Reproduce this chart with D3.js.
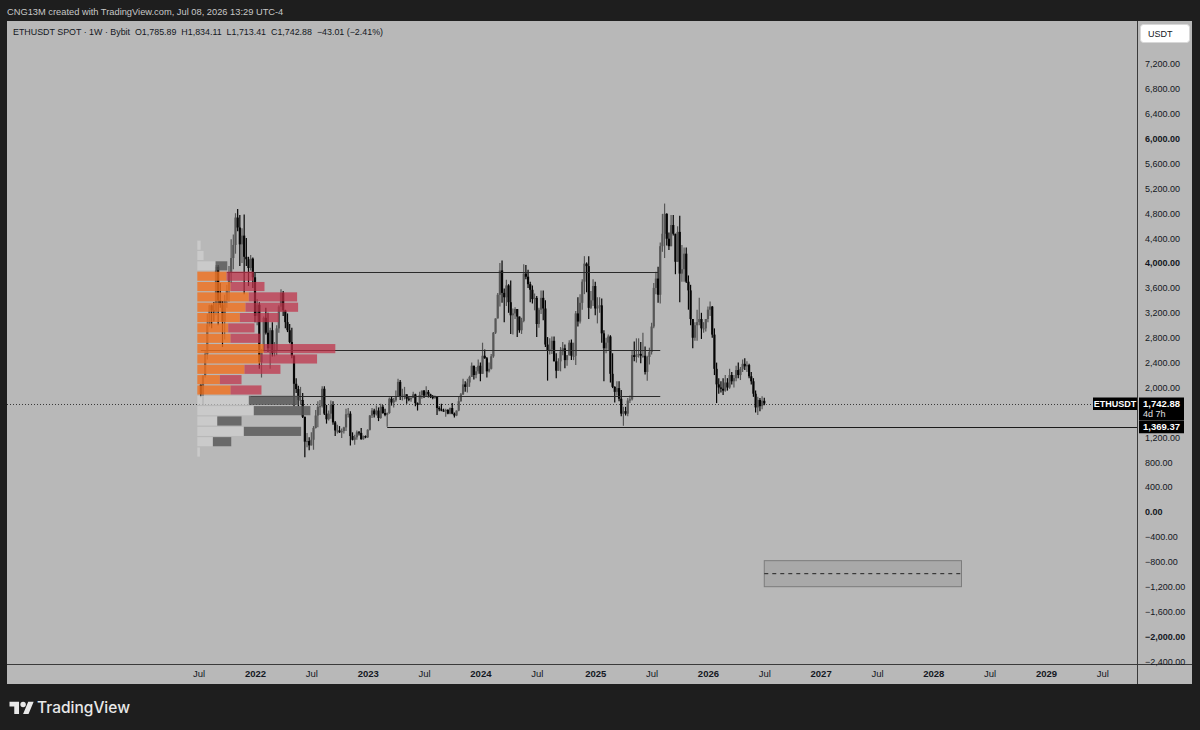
<!DOCTYPE html>
<html>
<head>
<meta charset="utf-8">
<script src="https://cdn.jsdelivr.net/npm/d3@7"></script>
<style>
  body { margin: 0; background: #1e1e1e; }
  svg { display: block; }
  text { font-family: "Liberation Sans", Arial, sans-serif; }
</style>
</head>
<body>
<svg id="chart" width="1200" height="730"></svg>
<script>
// ETHUSDT weekly, Bybit spot. Open of each week = close of the week before.
const firstOpen = 2045;

const close2021 = [1895, 2190, 2535, 3010, 3320, 3240, 3225, 3940, 3400, 3330, 3060, 3400, 3560, 3850, 4080, 4290, 4730, 4570, 4300, 4440, 4100, 4060, 3920, 4070, 3770];
const high2021 = [2050, 2195, 2600, 3180, 3330, 3335, 3375, 3970, 3970, 3680, 3390, 3490, 3650, 3950, 4380, 4460, 4800, 4868, 4770, 4560, 4780, 4400, 4100, 4130, 4090];
const low2021 = [1845, 1718, 2160, 2450, 2980, 2950, 3060, 3160, 3000, 3280, 2650, 2770, 3280, 3380, 3680, 3900, 4150, 4510, 3950, 4000, 3500, 3950, 3630, 3880, 3600];

const close2022 = [3150, 3330, 2410, 2600, 3120, 2880, 2630, 2920, 2550, 2590, 2950, 3300, 3520, 3240, 3050, 2920, 2730, 2510, 2060, 1975, 1800, 1800, 1530, 1130, 1140, 1070, 1160, 1350, 1550, 1690, 1700, 1980, 1580, 1490, 1580, 1720, 1440, 1310, 1310, 1280, 1300, 1360, 1570, 1580, 1220, 1160, 1200, 1280, 1270, 1170, 1220, 1200];
const high2022 = [3850, 3420, 3370, 2620, 3140, 3280, 3200, 2960, 3050, 2730, 3000, 3320, 3580, 3550, 3250, 3190, 3020, 2960, 2520, 2150, 2030, 2010, 1910, 1530, 1270, 1200, 1280, 1380, 1640, 1780, 1800, 2020, 2020, 1720, 1630, 1790, 1780, 1460, 1400, 1380, 1340, 1370, 1660, 1670, 1620, 1280, 1240, 1310, 1300, 1350, 1230, 1230];
const low2022 = [3050, 3000, 2300, 2160, 2580, 2850, 2570, 2300, 2500, 2500, 2520, 2880, 3220, 3150, 2950, 2890, 2710, 2470, 1700, 1910, 1700, 1720, 1510, 880, 1040, 990, 1070, 1000, 1340, 1360, 1560, 1680, 1560, 1420, 1470, 1500, 1400, 1220, 1260, 1270, 1190, 1260, 1300, 1520, 1070, 1150, 1080, 1160, 1230, 1160, 1160, 1185];

const close2023 = [1320, 1550, 1630, 1570, 1630, 1510, 1690, 1590, 1560, 1590, 1820, 1760, 1795, 1860, 2090, 1865, 1870, 1890, 1820, 1810, 1830, 1890, 1750, 1720, 1880, 1950, 1870, 1930, 1890, 1860, 1830, 1850, 1670, 1650, 1630, 1620, 1640, 1580, 1670, 1580, 1550, 1630, 1780, 1890, 2050, 2010, 2080, 2170, 2350, 2200, 2260, 2350];
const high2023 = [1330, 1560, 1670, 1660, 1710, 1680, 1740, 1720, 1660, 1600, 1840, 1850, 1830, 1950, 2140, 2120, 1980, 2010, 1860, 1850, 1850, 1930, 1900, 1760, 1930, 1950, 1960, 2020, 1960, 1900, 1880, 1870, 1850, 1700, 1740, 1660, 1660, 1650, 1680, 1750, 1600, 1630, 1850, 1910, 2140, 2100, 2140, 2190, 2400, 2270, 2330, 2450];
const low2023 = [1190, 1310, 1510, 1520, 1550, 1460, 1500, 1580, 1540, 1369, 1580, 1710, 1680, 1770, 1850, 1800, 1790, 1810, 1740, 1780, 1770, 1840, 1700, 1630, 1720, 1820, 1830, 1860, 1840, 1830, 1810, 1820, 1560, 1620, 1620, 1610, 1530, 1570, 1570, 1570, 1520, 1540, 1620, 1770, 1880, 1930, 1920, 2010, 2170, 2130, 2150, 2220];

const close2024 = [2220, 2510, 2470, 2260, 2300, 2500, 2880, 3110, 3490, 3880, 3520, 3450, 3640, 3370, 3160, 3190, 3260, 3140, 2920, 3070, 3830, 3780, 3660, 3570, 3420, 3440, 3020, 3250, 3440, 3270, 2690, 2600, 2610, 2750, 2420, 2270, 2420, 2580, 2630, 2440, 2520, 2720, 2510, 2510, 3190, 3060, 3360, 3700, 3990, 3950, 3280, 3400, 3630];
const high2024 = [2400, 2720, 2610, 2490, 2400, 2540, 2890, 3110, 3520, 4000, 4040, 3590, 3730, 3660, 3720, 3270, 3290, 3260, 3130, 3120, 3980, 3970, 3890, 3700, 3640, 3510, 3470, 3280, 3560, 3560, 3400, 2810, 2790, 2820, 2820, 2550, 2470, 2650, 2730, 2690, 2520, 2760, 2770, 2720, 3230, 3450, 3500, 3740, 4110, 4010, 4110, 3550, 3740];
const low2024 = [2100, 2230, 2460, 2160, 2240, 2290, 2480, 2860, 3110, 3300, 3360, 3050, 3310, 3200, 2860, 2850, 3100, 2810, 2880, 2860, 3050, 3740, 3600, 3370, 3350, 3240, 2810, 2960, 3180, 3080, 2650, 2110, 2530, 2540, 2420, 2150, 2270, 2260, 2520, 2310, 2350, 2510, 2440, 2440, 2360, 2980, 3030, 3250, 3500, 3530, 3100, 3260, 3310];

const close2025 = [3270, 3300, 3320, 2870, 2630, 2720, 2820, 2220, 2010, 1930, 1990, 1820, 1580, 1620, 1580, 1790, 1810, 2520, 2490, 2530, 2540, 2510, 2510, 2250, 2490, 2570, 2980, 3600, 3750, 3490, 4270, 4470, 4790, 4390, 4270, 4610, 4470, 4020, 4500, 3830, 3900, 4150, 3700, 3560, 3100, 2800, 3000, 3050, 3100, 2950, 2950, 3100];
const high2025 = [3700, 3450, 3450, 3430, 2920, 2800, 2850, 2840, 2550, 2020, 2100, 2100, 1960, 1690, 1690, 1830, 1870, 2600, 2740, 2790, 2790, 2730, 2880, 2660, 2510, 2640, 3040, 3680, 3860, 3940, 4330, 4790, 4955, 4800, 4490, 4770, 4770, 4460, 4590, 4760, 4290, 4250, 4250, 3800, 3650, 3100, 3050, 3250, 3440, 3200, 3050, 3100];
const low2025 = [3160, 3030, 3200, 2720, 2100, 2550, 2600, 2080, 1990, 1760, 1870, 1780, 1540, 1385, 1550, 1540, 1750, 1790, 2420, 2400, 2480, 2390, 2480, 2210, 2110, 2370, 2530, 2950, 3500, 3360, 3350, 4180, 4080, 4280, 4210, 4290, 4440, 3820, 4070, 3370, 3700, 3700, 3680, 3250, 3000, 2630, 2750, 2750, 3000, 2780, 2880, 2900];

const close2026 = [3250, 3300, 2850, 2300, 2050, 2000, 1980, 1950, 2080, 2000, 2200, 2100, 2150, 2280, 2200, 2300, 2380, 2340, 2360, 2180, 2100, 1900, 1680, 1800, 1700, 1785.89, 1742.88];
const high2026 = [3300, 3380, 3310, 2950, 2400, 2150, 2100, 2150, 2200, 2150, 2300, 2250, 2200, 2350, 2400, 2330, 2450, 2470, 2420, 2380, 2250, 2150, 1950, 1850, 1830, 1860, 1834.11];
const low2026 = [3050, 3150, 2800, 2200, 1750, 1900, 1920, 1880, 1930, 1950, 1980, 2050, 2000, 2100, 2150, 2120, 2250, 2280, 2250, 2150, 2050, 1850, 1600, 1560, 1620, 1650, 1713.41];

// fixed range volume profile (rows from the bottom up)
const profileLow = 880;
const profileHigh = 4868;
const profileRows = 24;
const profileUp = [2.6, 15.6, 46.6, 20, 56.6, 51.6, 33.3, 22.6, 47.3, 63.3, 66.6, 33.3, 31, 42.6, 48.3, 51.6, 33.3, 29.3, 18.3, 6.3, 3.3, 0, 0, 0];
const profileDown = [0, 18.4, 57.4, 24.3, 56.7, 50, 31, 21.7, 36, 56.7, 71.7, 30, 26.3, 39, 52.7, 48.4, 34, 27.3, 11.7, 0, 0, 0, 0, 0];
const valueAreaRows = [6, 17];

// drawings
const levels = [
    {from: '2021-10-04', to: '2025-07-28', price: 3855},
    {from: '2021-07-12', to: '2025-08-04', price: 2602},
    {from: '2021-12-20', to: '2025-08-04', price: 1863}
];
const ray = {from: '2023-03-06', price: 1369.37};
const targetBox = {from: '2026-07-06', to: '2028-04-03', top: -782, bottom: -1200};

const priceTicks = d3.range(-2400, 7201, 400);
const boldPrices = [6000, 4000, 0, -2000];
const lastPrice = 1742.88;
const countdown = '4d 7h';

const W = 1200, H = 730;
const pane = {left: 7, top: 21, right: 1137, bottom: 664};
const axisRightEdge = 1192, axisBottomEdge = 684;

const parse = d3.utcParse('%Y-%m-%d');
const closes = [].concat(close2021, close2022, close2023, close2024, close2025, close2026);
const highs = [].concat(high2021, high2022, high2023, high2024, high2025, high2026);
const lows = [].concat(low2021, low2022, low2023, low2024, low2025, low2026);
const weeks = d3.utcMonday.range(parse('2021-07-12'), parse('2026-07-07'));

const candles = weeks.map((d, i) => {
    const o = i ? closes[i - 1] : firstOpen, c = closes[i];
    return {date: d, o, c, h: Math.max(highs[i], o, c), l: Math.min(lows[i], o, c)};
});

const x = d3.scaleUtc()
    .domain([parse('2022-01-03'), parse('2029-01-01')])
    .range([255, 1046]);
const y = d3.scaleLinear()
    .domain([-2442, 7888])
    .range([pane.bottom, pane.top]);

const svg = d3.select('#chart');

svg.append('rect').attr('width', W).attr('height', H).attr('fill', '#1e1e1e');
svg.append('rect')
    .attr('x', pane.left).attr('y', pane.top)
    .attr('width', axisRightEdge - pane.left).attr('height', axisBottomEdge - pane.top)
    .attr('fill', '#b8b8b8');

svg.append('defs').append('clipPath').attr('id', 'pane-clip')
    .append('rect')
    .attr('x', pane.left).attr('y', pane.top)
    .attr('width', pane.right - pane.left).attr('height', pane.bottom - pane.top);

const plot = svg.append('g').attr('clip-path', 'url(#pane-clip)');

// current price dotted line
plot.append('line')
    .attr('x1', pane.left).attr('x2', pane.right)
    .attr('y1', Math.round(y(lastPrice)) + 0.5).attr('y2', Math.round(y(lastPrice)) + 0.5)
    .attr('stroke', '#3a3a3a').attr('stroke-dasharray', '1,2');

// candles
const bw = 2.2;
const candleColor = d => d.c >= d.o ? '#575757' : '#050505';
const cg = plot.append('g');
cg.selectAll('line.wick')
    .data(candles)
    .join('line')
    .attr('class', 'wick')
    .attr('x1', d => x(d.date)).attr('x2', d => x(d.date))
    .attr('y1', d => y(d.h)).attr('y2', d => y(d.l))
    .attr('stroke', candleColor).attr('stroke-width', 1.2);
cg.selectAll('rect.body')
    .data(candles)
    .join('rect')
    .attr('class', 'body')
    .attr('x', d => x(d.date) - bw / 2)
    .attr('width', bw)
    .attr('y', d => y(Math.max(d.o, d.c)))
    .attr('height', d => Math.max(1, Math.abs(y(d.o) - y(d.c))))
    .attr('fill', candleColor);

// horizontal levels
plot.selectAll('line.level')
    .data(levels)
    .join('line')
    .attr('class', 'level')
    .attr('x1', d => x(parse(d.from))).attr('x2', d => x(parse(d.to)))
    .attr('y1', d => Math.round(y(d.price)) + 0.5).attr('y2', d => Math.round(y(d.price)) + 0.5)
    .attr('stroke', '#2a2a2a').attr('stroke-width', 1);

plot.append('line')
    .attr('x1', x(parse(ray.from))).attr('x2', pane.right)
    .attr('y1', Math.round(y(ray.price)) + 0.5).attr('y2', Math.round(y(ray.price)) + 0.5)
    .attr('stroke', '#1a1a1a').attr('stroke-width', 1);

// volume profile
const rowSize = (profileHigh - profileLow) / profileRows;
const rows = profileUp.map((u, i) => ({
    i, up: u, down: profileDown[i],
    lo: profileLow + i * rowSize, hi: profileLow + (i + 1) * rowSize,
    inVA: i >= valueAreaRows[0] && i <= valueAreaRows[1]
}));
const vx = d3.scaleLinear()
    .domain([0, d3.max(rows, r => r.up + r.down)])
    .range([0, 138]);
const profileLeft = x(weeks[0]) - 3.5;
const pg = plot.append('g');
rows.forEach(r => {
    const top = y(r.hi) + 0.6, h = y(r.lo) - y(r.hi) - 1.2;
    if (r.up > 0) pg.append('rect')
        .attr('x', profileLeft).attr('y', top)
        .attr('width', vx(r.up)).attr('height', h)
        .attr('fill', r.inVA ? '#f07220' : '#d0d0d0')
        .attr('fill-opacity', r.inVA ? 0.82 : 0.75);
    if (r.down > 0) pg.append('rect')
        .attr('x', profileLeft + vx(r.up)).attr('y', top)
        .attr('width', vx(r.down)).attr('height', h)
        .attr('fill', r.inVA ? '#c03048' : '#555555')
        .attr('fill-opacity', r.inVA ? 0.72 : 0.8);
});

// target box
plot.append('rect')
    .attr('x', x(parse(targetBox.from))).attr('y', y(targetBox.top))
    .attr('width', x(parse(targetBox.to)) - x(parse(targetBox.from)))
    .attr('height', y(targetBox.bottom) - y(targetBox.top))
    .attr('fill', '#a9a9a9').attr('stroke', '#7c7c7c').attr('stroke-width', 1);
plot.append('line')
    .attr('x1', x(parse(targetBox.from))).attr('x2', x(parse(targetBox.to)))
    .attr('y1', y((targetBox.top + targetBox.bottom) / 2)).attr('y2', y((targetBox.top + targetBox.bottom) / 2))
    .attr('stroke', '#222').attr('stroke-dasharray', '4,4');

// frame lines
svg.append('line').attr('x1', pane.right + 0.5).attr('x2', pane.right + 0.5)
    .attr('y1', pane.top).attr('y2', axisBottomEdge).attr('stroke', '#3a3a3a');
svg.append('line').attr('x1', pane.left).attr('x2', axisRightEdge)
    .attr('y1', pane.bottom + 0.5).attr('y2', pane.bottom + 0.5).attr('stroke', '#3a3a3a');

// price axis (labels under the last-price tag are hidden, as on the chart)
const hiddenPrices = priceTicks.filter(v => Math.abs(y(v) - y(lastPrice) - 5.5) < 10);
const yAxis = svg.append('g')
    .attr('transform', `translate(${pane.right + 1},0)`)
    .call(d3.axisRight(y).tickValues(priceTicks.filter(v => !hiddenPrices.includes(v)))
        .tickSize(0).tickPadding(7).tickFormat(d3.format(',.2f')));
yAxis.select('.domain').remove();
yAxis.selectAll('text')
    .attr('fill', '#131722').attr('font-size', 9)
    .attr('font-weight', d => boldPrices.includes(d) ? 700 : 400)
    .style('font-family', '"Liberation Sans", Arial, sans-serif');

// time axis
const timeTicks = [];
d3.range(2021, 2030).forEach(yr => {
    timeTicks.push({date: d3.utcMonday.ceil(new Date(Date.UTC(yr, 0, 1))), label: String(yr), major: true});
    timeTicks.push({date: d3.utcMonday.ceil(new Date(Date.UTC(yr, 6, 1))), label: 'Jul', major: false});
});
const shownTicks = timeTicks.filter(t => x(t.date) > pane.left + 150 && x(t.date) < pane.right - 15);
const xAxis = svg.append('g')
    .attr('transform', `translate(0,${pane.bottom})`)
    .call(d3.axisBottom(x).tickValues(shownTicks.map(t => t.date)).tickSize(0).tickPadding(6)
        .tickFormat((d, i) => shownTicks[i].label));
xAxis.select('.domain').remove();
xAxis.selectAll('text')
    .attr('fill', '#131722').attr('font-size', 9.5)
    .attr('font-weight', (d, i) => shownTicks[i].major ? 700 : 400)
    .style('font-family', '"Liberation Sans", Arial, sans-serif');

// USDT currency box
svg.append('rect').attr('x', 1140.5).attr('y', 24.5).attr('width', 49).attr('height', 18).attr('rx', 3)
    .attr('fill', '#ffffff').attr('stroke', '#d8d8d8');
svg.append('text').attr('x', 1148).attr('y', 37).attr('font-size', 9).attr('fill', '#131722').text('USDT');

// last price labels
const yp = y(lastPrice), yr = y(ray.price);
svg.append('rect').attr('x', 1093).attr('y', yp - 6).attr('width', 44).attr('height', 12.5).attr('fill', '#000');
svg.append('text').attr('x', 1115).attr('y', yp + 3.3).attr('text-anchor', 'middle')
    .attr('font-size', 9).attr('font-weight', 700).attr('fill', '#fff').text('ETHUSDT');
svg.append('rect').attr('x', 1139).attr('y', yp - 6).attr('width', 45).attr('height', 23).attr('fill', '#000');
svg.append('text').attr('x', 1143).attr('y', yp + 3.3)
    .attr('font-size', 9.5).attr('font-weight', 700).attr('fill', '#fff').text(d3.format(',.2f')(lastPrice));
svg.append('text').attr('x', 1143).attr('y', yp + 13.5)
    .attr('font-size', 9).attr('fill', '#e0e0e0').text(countdown);
svg.append('rect').attr('x', 1139).attr('y', yr - 6).attr('width', 45).attr('height', 12.5).attr('fill', '#000');
svg.append('text').attr('x', 1143).attr('y', yr + 3.7)
    .attr('font-size', 9.5).attr('font-weight', 700).attr('fill', '#fff').text(d3.format(',.2f')(ray.price));

// header + legend
svg.append('text').attr('x', 7).attr('y', 14.5).attr('font-size', 9.3).attr('fill', '#c8c8c8')
    .text('CNG13M created with TradingView.com, Jul 08, 2026 13:29 UTC-4');
svg.append('text').attr('x', 13).attr('y', 35).attr('font-size', 8.9).attr('fill', '#131722')
    .style('white-space', 'pre')
    .text('ETHUSDT SPOT · 1W · Bybit  O1,785.89  H1,834.11  L1,713.41  C1,742.88  \u221243.01 (\u22122.41%)');

// TradingView logo
svg.append('g').attr('transform', 'translate(9.5,699) scale(0.68)').attr('fill', '#e8e8e8')
    .call(g => {
        g.append('path').attr('d', 'M14 22H7V11H0V4h14v18zM28 22h-8l7.5-18h8L28 22z');
        g.append('circle').attr('cx', 20).attr('cy', 8).attr('r', 4);
    });
svg.append('text').attr('x', 37).attr('y', 713).attr('font-size', 15.5).attr('font-weight', 500)
    .attr('fill', '#e8e8e8').style('font-family', 'Inter, "Noto Sans", sans-serif').text('TradingView');
</script>
</body>
</html>
